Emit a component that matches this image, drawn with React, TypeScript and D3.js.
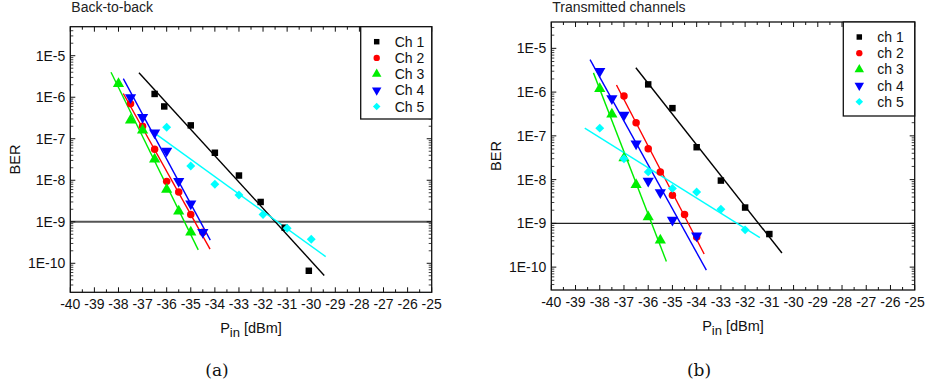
import React from "react";
import * as d3 from "d3";

// ---- data ----
const xTickValues = [-40, -39, -38, -37, -36, -35, -34, -33, -32, -31, -30, -29, -28, -27, -26, -25];
const yTickValues = [1e-10, 1e-9, 1e-8, 1e-7, 1e-6, 1e-5];
const channelColors = ["#000000", "#ff0000", "#00ee00", "#0000ff", "#00ffff"];
const b2bLabels = ["Ch 1", "Ch 2", "Ch 3", "Ch 4", "Ch 5"];
const txLabels = ["ch 1", "ch 2", "ch 3", "ch 4", "ch 5"];
const berThreshold = 1e-9;

// Back-to-back measurements: [Pin dBm, BER]
const b2bCh1 = [[-36.5, 1.2e-6], [-36.1, 6e-7], [-35, 2.1e-7], [-34, 4.6e-8], [-33, 1.3e-8], [-32.1, 3e-9], [-31.1, 7.2e-10], [-30.1, 6.6e-11]];
const b2bCh2 = [[-37.5, 7e-7], [-37, 2e-7], [-36.5, 5.6e-8], [-36, 9.4e-9], [-35.5, 5.2e-9], [-35, 1.5e-9], [-34.5, 5.6e-10]];
const b2bCh3 = [[-38, 2.1e-6], [-37.5, 2.8e-7], [-37, 1.6e-7], [-36.5, 3.2e-8], [-36, 6e-9], [-35.5, 1.8e-9], [-35, 5.6e-10]];
const b2bCh4 = [[-37.5, 9.8e-7], [-37, 3.3e-7], [-36.5, 1.4e-7], [-36, 5.1e-8], [-35.5, 9.5e-9], [-35, 2.7e-9], [-34.5, 5.6e-10]];
const b2bCh5 = [[-36, 1.9e-7], [-35, 2.2e-8], [-34, 8e-9], [-33, 4.4e-9], [-32, 1.5e-9], [-31, 7e-10], [-30, 3.8e-10]];
// Fitted lines: [P start, BER start, P end, BER end]
const b2bFits = [
  [-37.15, 3.9e-6, -29.46, 5.1e-11],
  [-37.8, 1.23e-6, -34.2, 2.2e-10],
  [-38.31, 4.0e-6, -34.69, 2.1e-10],
  [-37.8, 2.8e-6, -34.19, 3.6e-10],
  [-36.6, 1.5e-7, -29.4, 1.45e-10],
];

// Transmitted channels measurements
const txCh1 = [[-36, 1.5e-6], [-35, 4.3e-7], [-34, 5.5e-8], [-33, 9.5e-9], [-32, 2.3e-9], [-31, 5.7e-10]];
const txCh2 = [[-37, 8.1e-7], [-36.5, 2e-7], [-36, 5.1e-8], [-35.5, 1.5e-8], [-35, 4.4e-9], [-34.5, 1.6e-9], [-34, 4.9e-10]];
const txCh3 = [[-38, 1.2e-6], [-37.5, 3.1e-7], [-37, 3.1e-8], [-36.5, 7.6e-9], [-36, 1.4e-9], [-35.5, 4.1e-10]];
const txCh4 = [[-38, 3e-6], [-37.5, 7.1e-7], [-37, 3e-7], [-36.5, 6.6e-8], [-36, 9.3e-9], [-35.5, 5.1e-9], [-35, 1.2e-9], [-34, 5.2e-10]];
const txCh5 = [[-38, 1.5e-7], [-37, 3e-8], [-36, 1.5e-8], [-35, 6.3e-9], [-34, 5.2e-9], [-33, 2.1e-9], [-32, 7.1e-10]];
const txFits = [
  [-36.51, 3.6e-6, -30.48, 2.1e-10],
  [-37.31, 1.45e-6, -33.69, 2.0e-10],
  [-38.26, 2.75e-6, -35.25, 1.35e-10],
  [-38.4, 5.5e-6, -33.6, 8.5e-11],
  [-38.62, 1.5e-7, -31.39, 4.7e-10],
];

const FONT = "'Liberation Sans', Arial, Helvetica, sans-serif";
const FS = 14;

type Pt = number[];

// square, circle, up triangle, down triangle, diamond (rotated square)
function Marker({ i, x, y, size }: { i: number; x: number; y: number; size: number }) {
  const types = [d3.symbolSquare, d3.symbolCircle, d3.symbolTriangle, d3.symbolTriangle, d3.symbolSquare];
  const scale = [1, 1.05, 1.3, 1.3, 0.95];
  const rot = [0, 0, 0, 180, 45][i];
  const d = d3.symbol().type(types[i]).size(size * scale[i])() as string;
  return <path d={d} transform={`translate(${x},${y}) rotate(${rot})`} fill={channelColors[i]} />;
}

interface PanelProps {
  left: number;
  right: number;
  top: number;
  bottom: number;
  yDomain: [number, number];
  title: string;
  caption: string;
  series: Pt[][];
  fits: number[][];
  labels: string[];
  legendLeft: number;
  legendBottom: number;
  thresholdColor: string;
  thresholdWidth: number;
}

function Panel(p: PanelProps) {
  const x = d3.scaleLinear().domain([-40, -25]).range([p.left, p.right]);
  const y = d3.scaleLog().domain(p.yDomain).range([p.bottom, p.top]);
  const cx = (p.left + p.right) / 2;
  const cy = (p.top + p.bottom) / 2;

  const minorX = d3.range(-39.5, -25, 1);
  const minorY: number[] = [];
  for (let e = -11; e <= -4; e++) {
    for (let k = 2; k <= 9; k++) {
      const v = k * Math.pow(10, e);
      if (v > p.yDomain[0] && v < p.yDomain[1]) minorY.push(v);
    }
  }
  const line = d3.line<number[]>().x((d) => x(d[0])).y((d) => y(d[1]));
  const major = 5;
  const minor = 3;
  const legendRow = 16.2;
  const legendTop = p.top;

  return (
    <g>
      <text x={p.left + 1} y={12} fontFamily={FONT} fontSize={FS} fill="#222">{p.title}</text>

      {/* threshold line */}
      <line x1={p.left} x2={p.right} y1={y(berThreshold)} y2={y(berThreshold)} stroke={p.thresholdColor} strokeWidth={p.thresholdWidth} />

      {/* fitted lines */}
      {p.fits.map((f, i) => (
        <path key={"f" + i} d={line([[f[0], f[1]], [f[2], f[3]]]) as string} stroke={channelColors[i]} strokeWidth={1.4} fill="none" />
      ))}

      {/* markers */}
      {p.series.map((s, i) => (
        <g key={"s" + i}>
          {s.map((d, j) => (
            <Marker key={j} i={i} x={x(d[0])} y={y(d[1])} size={42} />
          ))}
        </g>
      ))}

      {/* frame */}
      <rect x={p.left} y={p.top} width={p.right - p.left} height={p.bottom - p.top} fill="none" stroke="#111" strokeWidth={1.3} />

      {/* x ticks, bottom and top */}
      {xTickValues.map((v) => (
        <g key={"xt" + v}>
          <line x1={x(v)} x2={x(v)} y1={p.bottom} y2={p.bottom - major} stroke="#111" />
          <line x1={x(v)} x2={x(v)} y1={p.top} y2={p.top + major} stroke="#111" />
          <text x={x(v)} y={p.bottom + 16.5} textAnchor="middle" fontFamily={FONT} fontSize={FS} fill="#111">{v}</text>
        </g>
      ))}
      {minorX.map((v) => (
        <g key={"xm" + v}>
          <line x1={x(v)} x2={x(v)} y1={p.bottom} y2={p.bottom - minor} stroke="#111" />
          <line x1={x(v)} x2={x(v)} y1={p.top} y2={p.top + minor} stroke="#111" />
        </g>
      ))}

      {/* y ticks, left and right */}
      {yTickValues.map((v) => (
        <g key={"yt" + v}>
          <line x1={p.left} x2={p.left + major} y1={y(v)} y2={y(v)} stroke="#111" />
          <line x1={p.right} x2={p.right - major} y1={y(v)} y2={y(v)} stroke="#111" />
          <text x={p.left - 5} y={y(v) + 5} textAnchor="end" fontFamily={FONT} fontSize={FS} fill="#111">
            {"1E" + Math.round(Math.log10(v))}
          </text>
        </g>
      ))}
      {minorY.map((v, i) => (
        <g key={"ym" + i}>
          <line x1={p.left} x2={p.left + minor} y1={y(v)} y2={y(v)} stroke="#111" strokeWidth={0.8} />
          <line x1={p.right} x2={p.right - minor} y1={y(v)} y2={y(v)} stroke="#111" strokeWidth={0.8} />
        </g>
      ))}

      {/* axis titles */}
      <text
        transform={`translate(${p.left - 50},${cy}) rotate(-90)`}
        textAnchor="middle"
        fontFamily={FONT}
        fontSize={14.5}
        fill="#111"
      >
        BER
      </text>
      <text x={cx} y={p.bottom + 41} textAnchor="middle" fontFamily={FONT} fontSize={14.5} fill="#111">
        P<tspan dy={4} fontSize={13}>in</tspan>
        <tspan dy={-4}> [dBm]</tspan>
      </text>

      {/* legend */}
      <rect x={p.legendLeft} y={legendTop} width={p.right - p.legendLeft} height={p.legendBottom - legendTop} fill="#fff" stroke="#111" strokeWidth={1.3} />
      {p.labels.map((lab, i) => {
        const ry = legendTop + 15 + i * legendRow;
        return (
          <g key={"l" + i}>
            <Marker i={i} x={p.legendLeft + 16} y={ry} size={30} />
            <text x={p.legendLeft + 34} y={ry + 5} fontFamily={FONT} fontSize={FS} fill="#111">{lab}</text>
          </g>
        );
      })}

      {/* caption */}
      <text x={cx - 34} y={376} textAnchor="middle" fontFamily="'DejaVu Serif', 'Liberation Serif', serif" fontSize={17} fill="#111">
        {p.caption}
      </text>
    </g>
  );
}

export default function App() {
  return (
    <svg width={928} height={389} style={{ position: "absolute", left: 0, top: 0, background: "#fff" }}>
      <rect width={928} height={389} fill="#fff" />
      <Panel
        left={70.3}
        right={431.7}
        top={26.7}
        bottom={292.3}
        yDomain={[2e-11, 5e-5]}
        title="Back-to-back"
        caption="(a)"
        series={[b2bCh1, b2bCh2, b2bCh3, b2bCh4, b2bCh5]}
        fits={b2bFits}
        labels={b2bLabels}
        legendLeft={360.7}
        legendBottom={119}
        thresholdColor="#555"
        thresholdWidth={2}
      />
      <Panel
        left={551.3}
        right={914.7}
        top={22}
        bottom={290}
        yDomain={[3e-11, 4e-5]}
        title="Transmitted channels"
        caption="(b)"
        series={[txCh1, txCh2, txCh3, txCh4, txCh5]}
        fits={txFits}
        labels={txLabels}
        legendLeft={843.3}
        legendBottom={116}
        thresholdColor="#222"
        thresholdWidth={1.2}
      />
    </svg>
  );
}
